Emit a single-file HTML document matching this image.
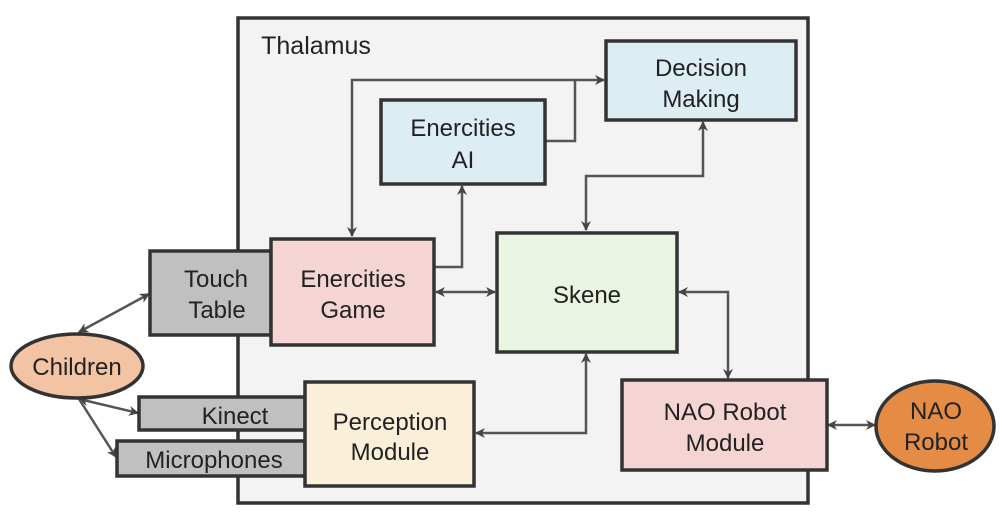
<!DOCTYPE html>
<html><head><meta charset="utf-8"><style>
html,body{margin:0;padding:0;background:#fff;}
svg{display:block;}
text{font-family:"Liberation Sans",sans-serif;font-size:24px;fill:#222;text-anchor:middle;}
</style></head><body>
<svg width="1002" height="516" viewBox="0 0 1002 516" xmlns="http://www.w3.org/2000/svg">
<defs>
<marker id="a" markerWidth="10" markerHeight="10" refX="9" refY="5" orient="auto-start-reverse" markerUnits="userSpaceOnUse">
<path d="M0,0 L10,5 L0,10 L3,5 Z" fill="#444"/>
</marker>
</defs>
<rect x="238" y="18" width="570" height="485" fill="#f3f3f3" stroke="#333" stroke-width="3.5"/>
<text x="316" y="54" style="font-size:25px">Thalamus</text>

<g stroke="#555" stroke-width="2.5" fill="none">
<polyline points="352,236 352,80 604,80" marker-end="url(#a)" marker-start="url(#a)"/>
<polyline points="545,141 575,141 575,80"/>
<polyline points="434,267 462,267 462,186" marker-end="url(#a)"/>
<line x1="436" y1="292" x2="495" y2="292" marker-end="url(#a)" marker-start="url(#a)"/>
<polyline points="703,122 703,176 586,176 586,230" marker-end="url(#a)" marker-start="url(#a)"/>
<polyline points="679,292 728,292 728,378" marker-end="url(#a)" marker-start="url(#a)"/>
<polyline points="586,354 586,433 476,433" marker-end="url(#a)" marker-start="url(#a)"/>
<line x1="828" y1="425" x2="875" y2="425" marker-end="url(#a)" marker-start="url(#a)"/>
<line x1="79" y1="332" x2="149" y2="294" marker-end="url(#a)" marker-start="url(#a)"/>
<line x1="79" y1="399" x2="138" y2="413" marker-end="url(#a)" marker-start="url(#a)"/>
<line x1="79" y1="399" x2="116" y2="457" marker-end="url(#a)"/>
</g>

<g stroke="#333" stroke-width="3.5">
<rect x="606" y="41" width="190" height="79" fill="#dcedf4"/>
<rect x="381" y="100" width="164" height="84" fill="#dcedf4"/>
<rect x="497" y="233" width="180" height="119" fill="#e9f4e2"/>
<rect x="150" y="251" width="121" height="84" fill="#c0c0c0"/>
<rect x="271" y="239" width="163" height="106" fill="#f5d4d4"/>
<rect x="139" y="397" width="166" height="33" fill="#c0c0c0"/>
<rect x="117" y="441" width="188" height="35" fill="#c0c0c0"/>
<rect x="305" y="382" width="169" height="104" fill="#faf0da"/>
<rect x="622" y="380" width="205" height="90" fill="#f5d4d4"/>
<ellipse cx="77" cy="366" rx="66" ry="32" fill="#f3c4a4"/>
<ellipse cx="935" cy="426" rx="59" ry="45" fill="#e48c45"/>
</g>

<text x="701" y="76">Decision</text><text x="701" y="107">Making</text>
<text x="463" y="136">Enercities</text><text x="463" y="168">AI</text>
<text x="587" y="303">Skene</text>
<text x="216" y="287">Touch</text><text x="217" y="318">Table</text>
<text x="353" y="287">Enercities</text><text x="353" y="318">Game</text>
<text x="235" y="424">Kinect</text>
<text x="214" y="468">Microphones</text>
<text x="390" y="430">Perception</text><text x="390" y="460">Module</text>
<text x="725" y="420">NAO Robot</text><text x="725" y="451">Module</text>
<text x="77" y="375">Children</text>
<text x="936" y="419">NAO</text><text x="936" y="450">Robot</text>
</svg>
</body></html>
